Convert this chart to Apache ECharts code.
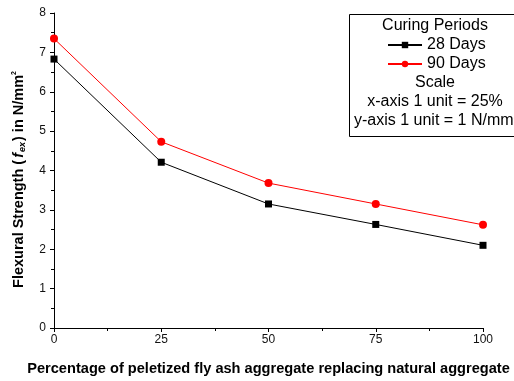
<!DOCTYPE html>
<html>
<head>
<meta charset="utf-8">
<script src="https://cdn.jsdelivr.net/npm/echarts@6/dist/echarts.min.js"></script>
<style>
  html, body { margin: 0; padding: 0; background: #fff; }
  #chart { width: 514px; height: 381px; }
</style>
</head>
<body>
<div id="chart"></div>
<script>
// 数据
const replacement = [0, 25, 50, 75, 100];
const days28 = [6.83, 4.21, 3.15, 2.63, 2.1];
const days90 = [7.35, 4.73, 3.68, 3.15, 2.62];
const scaleLines = ['Scale', 'x-axis 1 unit = 25%'];

const myChart = echarts.init(document.getElementById('chart'));
const font = 'Liberation Sans, Arial, sans-serif';

const pairs = (ys) => replacement.map((x, i) => [x, ys[i]]);

const option = {
    animation: false,
    textStyle: { fontFamily: font },
    grid: { left: 54, right: 31, top: 13, bottom: 53 },
    xAxis: {
        type: 'value',
        min: 0,
        max: 100,
        interval: 25,
        name: 'Percentage of peletized fly ash aggregate replacing natural aggregate',
        nameLocation: 'middle',
        nameGap: 33,
        nameTextStyle: { fontSize: 14.6, fontWeight: 'bold', color: '#000' },
        axisLine: { lineStyle: { color: '#000', width: 1 } },
        axisTick: { inside: false, length: 4, lineStyle: { color: '#000' } },
        minorTick: { show: true, splitNumber: 2, length: 3, lineStyle: { color: '#000' } },
        axisLabel: { fontSize: 12, color: '#111', margin: 6 },
        splitLine: { show: false }
    },
    yAxis: {
        type: 'value',
        min: 0,
        max: 8,
        interval: 1,
        name: '{b|Flexural Strength (}{i|f}{sub|ex}{b|) in N/mm}{sup|2}',
        nameLocation: 'middle',
        nameGap: 27,
        nameTextStyle: {
            padding: [0, 18, 0, 0],
            rich: {
                b: { fontSize: 14.5, fontWeight: 'bold', color: '#000', fontFamily: font },
                i: { fontSize: 14.5, fontWeight: 'bold', fontStyle: 'italic', color: '#000', fontFamily: font, padding: [0, 1, 0, 2] },
                sub: { fontSize: 9, fontWeight: 'bold', fontStyle: 'italic', color: '#000', verticalAlign: 'bottom', padding: [7, 1, 0, 0], fontFamily: font },
                sup: { fontSize: 7, fontWeight: 'bold', color: '#000', verticalAlign: 'top', padding: [0, 0, 8, 0], fontFamily: font }
            }
        },
        axisLine: { show: true, lineStyle: { color: '#000', width: 1 } },
        axisTick: { show: true, inside: false, length: 4, lineStyle: { color: '#000' } },
        minorTick: { show: true, splitNumber: 2, length: 3, lineStyle: { color: '#000' } },
        axisLabel: { fontSize: 12, color: '#111', margin: 8 },
        splitLine: { show: false }
    },
    legend: {
        orient: 'vertical',
        left: 387,
        top: 35.5,
        padding: 0,
        itemWidth: 34,
        itemHeight: 8,
        itemGap: 0,
        textStyle: { fontSize: 16, color: '#000', lineHeight: 19, fontFamily: font },
        data: ['28 Days', '90 Days']
    },
    graphic: [
        {
            type: 'rect',
            shape: { x: 349.5, y: 14.5, width: 200, height: 122 },
            style: { fill: '#fff', stroke: '#000', lineWidth: 1 },
            z: -1
        },
        {
            type: 'text',
            style: { text: 'Curing Periods', x: 435, y: 26, align: 'center', verticalAlign: 'middle', font: '16px ' + font, fill: '#000' }
        },
        {
            type: 'text',
            style: { text: scaleLines[0], x: 435, y: 83, align: 'center', verticalAlign: 'middle', font: '16px ' + font, fill: '#000' }
        },
        {
            type: 'text',
            style: { text: scaleLines[1], x: 435, y: 102, align: 'center', verticalAlign: 'middle', font: '16px ' + font, fill: '#000' }
        },
        {
            type: 'text',
            style: {
                x: 354,
                y: 121,
                verticalAlign: 'middle',
                text: '{t|y-axis 1 unit = 1 N/mm}{s|2}',
                rich: {
                    t: { fontSize: 16, fill: '#000', fontFamily: font },
                    s: { fontSize: 9, fill: '#000', fontFamily: font, verticalAlign: 'top', padding: [0, 0, 9, 0] }
                }
            }
        }
    ],
    series: [
        {
            name: '28 Days',
            type: 'line',
            data: pairs(days28),
            symbol: 'rect',
            symbolSize: 7,
            lineStyle: { color: '#000', width: 1 },
            itemStyle: { color: '#000' }
        },
        {
            name: '90 Days',
            type: 'line',
            data: pairs(days90),
            symbol: 'circle',
            symbolSize: 8,
            lineStyle: { color: '#ff0000', width: 1 },
            itemStyle: { color: '#ff0000' }
        }
    ]
};

option && myChart.setOption(option);
</script>
</body>
</html>
